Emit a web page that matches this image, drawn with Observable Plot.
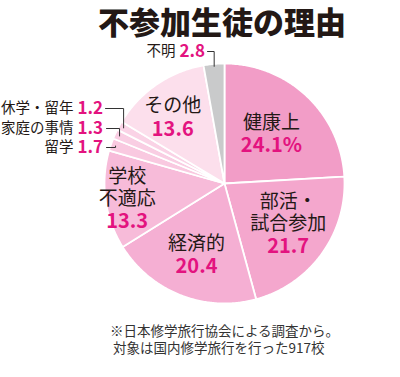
<!DOCTYPE html>
<html><head><meta charset="utf-8">
<script src="https://cdn.jsdelivr.net/npm/d3@7"></script>
<script src="https://cdn.jsdelivr.net/npm/@observablehq/plot@0.6"></script>
<style>
body{margin:0;background:#fff;}
#wrap{position:relative;width:400px;height:377px;overflow:hidden;font-family:"Noto Sans CJK JP","Noto Sans",sans-serif;}
#title{position:absolute;left:98px;top:4px;white-space:nowrap;font-size:31px;font-weight:900;line-height:1.1;color:#231815;}
#note{position:absolute;left:110px;top:322px;font-size:13.5px;line-height:17px;color:#333;white-space:pre;}
#chart{position:absolute;left:0;top:0;}
</style></head>
<body><div id="wrap"><div id="chart"></div><div id="title">不参加生徒の理由</div><div id="note">※日本修学旅行協会による調査から。
 対象は国内修学旅行を行った917校</div></div>
<script>
const categories = ["健康上","部活・試合参加","経済的","学校不適応","留学","家庭の事情","休学・留年","その他","不明"];
const values = [24.1, 21.7, 20.4, 13.3, 1.7, 1.3, 1.2, 13.6, 2.8];
const valueText = ["24.1%","21.7","20.4","13.3","1.7","1.3","1.2","13.6","2.8"];
const nameText = ["健康上","部活・\n試合参加","経済的","学校\n不適応","留学","家庭の事情","休学・留年","その他","不明"];
const colors = ["#f29dc7","#f4a7cd","#f5afd3","#f7bbd9","#f9c9e0","#f9cee3","#fad3e6","#fcdfec","#c9cacb"];

const W = 400, H = 377, CX = 224, CY = 183, R = 120;
const toX = px => (px - CX) / R, toY = py => (CY - py) / R;
const font = "Noto Sans CJK JP";
const ink = "#231815", magenta = "#e3137f";

const arcs = d3.pie().sort(null).value(d => d)(values);
const slices = categories.map((c, i) => ({i, cat: c, start: arcs[i].startAngle, end: arcs[i].endAngle, mid: (arcs[i].startAngle + arcs[i].endAngle) / 2}));
function slicePoints(s) {
  const pts = [{x: 0, y: 0}];
  const n = Math.max(2, Math.ceil((s.end - s.start) / 0.01));
  for (let k = 0; k <= n; k++) { const a = s.start + (s.end - s.start) * k / n; pts.push({x: Math.sin(a), y: Math.cos(a)}); }
  pts.push({x: 0, y: 0});
  return pts;
}

// inside labels: radius fraction and angle shift (deg)
const inside = {0: {r: 0.57, s: 0}, 1: {r: 0.68, s: 3}, 2: {r: 0.64, s: 0}, 3: {r: 0.84, s: -7}, 7: {r: 0.70, s: -3.5}};
const inLabels = Object.entries(inside).map(([k, o]) => {
  const i = +k, a = slices[i].mid + o.s * Math.PI / 180;
  return {name: nameText[i], value: valueText[i], x: o.r * Math.sin(a), y: o.r * Math.cos(a)};
});

// outside labels with leaders (pixel layout)
const outside = {4: {row: 147, nameEnd: 73, lead: 106}, 5: {row: 128, nameEnd: 73, lead: 106}, 6: {row: 108, nameEnd: 73, lead: 105}, 8: {row: 51, nameEnd: 175, lead: 207}};
const outLabels = [], leaders = [];
Object.entries(outside).forEach(([k, o]) => {
  const i = +k, s = slices[i];
  const er = i === 8 ? 0.98 : 0.96;
  const ex = er * Math.sin(s.mid), ey = er * Math.cos(s.mid);
  outLabels.push({name: nameText[i], value: valueText[i], y: toY(o.row), xn: toX(o.nameEnd), xv: toX(o.nameEnd + 4)});
  leaders.push({k: i, x: toX(o.lead), y: toY(o.row)}, {k: i, x: ex, y: toY(o.row)}, {k: i, x: ex, y: ey});
});

const marks = [];
slices.forEach(s => marks.push(Plot.line(slicePoints(s), {x: "x", y: "y", fill: colors[s.i], stroke: "white", strokeWidth: 1.8, strokeLinejoin: "round", curve: "linear"})));
marks.push(Plot.line(leaders, {x: "x", y: "y", z: "k", stroke: "#333", strokeWidth: 1}));
marks.push(Plot.text(inLabels, {x: "x", y: "y", text: "name", lineAnchor: "bottom", dy: -5, fontSize: 19, lineHeight: 1.12, fontFamily: font, fill: ink}));
marks.push(Plot.text(inLabels, {x: "x", y: "y", text: "value", lineAnchor: "top", dy: 4, fontSize: 20, fontWeight: "bold", fontFamily: font, fill: magenta}));
marks.push(Plot.text(outLabels, {x: "xn", y: "y", text: "name", textAnchor: "end", fontSize: 14.5, fontFamily: font, fill: ink}));
marks.push(Plot.text(outLabels, {x: "xv", y: "y", text: "value", textAnchor: "start", fontSize: 17, fontWeight: "bold", fontFamily: font, fill: magenta}));

const plot = Plot.plot({
  width: W, height: H, margin: 0,
  x: {domain: [toX(0), toX(W)], axis: null},
  y: {domain: [toY(H), toY(0)], axis: null},
  style: {background: "transparent"},
  marks
});
document.getElementById("chart").appendChild(plot);
</script></body></html>
